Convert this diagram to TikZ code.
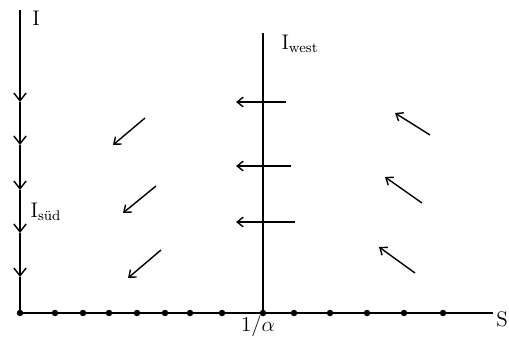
\documentclass[tikz,border=0pt]{standalone}
\usepackage{amsmath}
\usetikzlibrary{arrows.meta}

\begin{document}
\begin{tikzpicture}[x=0.02cm, y=-0.02cm, thick,
  >={Straight Barb[length=4.5pt,width=7pt]},
  flow/.style={->,>={Straight Barb[length=3.5pt,width=5.5pt]}},
  dot/.style={circle,fill,inner sep=1.3pt},
  lbl/.style={font=\large,inner sep=1pt}]
  \useasboundingbox (0,0) rectangle (509,340);
  \coordinate (O) at (20,313);
  \coordinate (Itop) at (20,10);
  \coordinate (Send) at (493,313);
  \coordinate (Mtop) at (263,33);
  % axes
  \draw (O) -- (Send);
  \node[dot] (M) at (263,313) {};
  \draw (M.center) -- (Mtop);
  % I axis, flowing down
  \foreach \y [count=\i] in {102,145,190,233,277}
    \coordinate (h\i) at (20,\y);
  \draw[->] (Itop) -- (h1);
  \draw[->] (h1) -- (h2);
  \draw[->] (h2) -- (h3);
  \draw[->] (h3) -- (h4);
  \draw[->] (h4) -- (h5);
  \draw (h5) -- (O);
  % points on the S axis
  \foreach \x [count=\i] in {20,55,83,109,137,165,190,222,294,330,367,404,443}
    \node[dot] (p\i) at (\x,313) {};
  % labels
  \node[lbl] (lI) at (36,18) {I};
  \node[lbl] (lS) at (502,319) {S};
  \node[lbl] (lsud) at (46,212) {$\mathrm{I}_{\text{süd}}$};
  \node[lbl] (lwest) at (300,44) {$\mathrm{I}_{\text{west}}$};
  \node[lbl] (lM) at (258,326) {$1/\alpha$};
  % flow left of 1/alpha
  \foreach \tx/\ty/\hx/\hy [count=\i] in {145/118/113/145, 156/186/123/213, 161/250/128/278}
  {
    \coordinate (a\i) at (\tx,\ty);
    \coordinate (b\i) at (\hx,\hy);
    \draw[flow] (a\i) -- (b\i);
  }
  % flow on the line
  \foreach \tx/\y [count=\i] in {286/102, 291/166, 295/222}
  {
    \coordinate (c\i) at (\tx,\y);
    \coordinate (d\i) at (236,\y);
    \draw[flow] (c\i) -- (d\i);
  }
  % flow right of 1/alpha
  \foreach \tx/\ty/\hx/\hy [count=\i] in {430/135/395/113, 422/203/385/177, 415/273/379/247}
  {
    \coordinate (e\i) at (\tx,\ty);
    \coordinate (f\i) at (\hx,\hy);
    \draw[flow] (e\i) -- (f\i);
  }
\end{tikzpicture}
\end{document}
